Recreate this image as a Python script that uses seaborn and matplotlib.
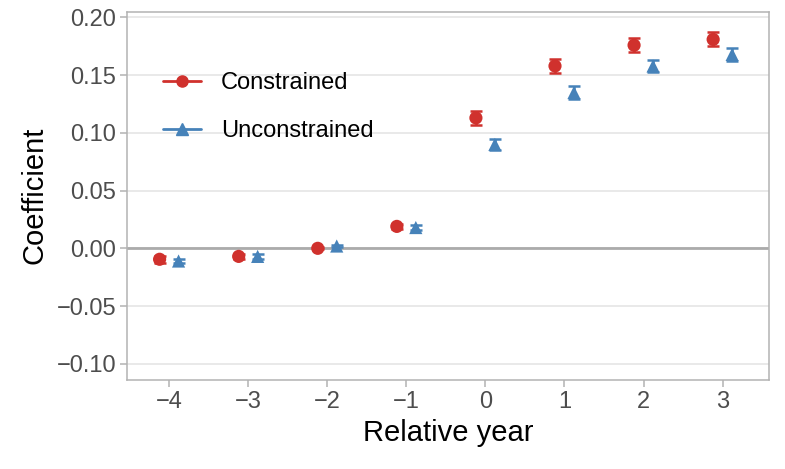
import matplotlib
matplotlib.use("Agg")
import matplotlib.pyplot as plt
from matplotlib.lines import Line2D
import numpy as np
import pandas as pd
import seaborn as sns

# Data
years = [-4, -3, -2, -1, 0, 1, 2, 3]
constrained = [-0.0095, -0.007, 0.000, 0.019, 0.113, 0.158, 0.176, 0.181]
constrained_se = [0.003, 0.002, 0.001, 0.002, 0.006, 0.006, 0.006, 0.006]
unconstrained = [-0.011, -0.007, 0.002, 0.018, 0.090, 0.135, 0.158, 0.168]
unconstrained_se = [0.002, 0.002, 0.001, 0.002, 0.005, 0.0055, 0.0055, 0.006]

RED = "#D0312D"
BLUE = "#4682B9"
dodge = 0.12

df = pd.concat([
    pd.DataFrame({"year": years, "coef": constrained, "se": constrained_se, "model": "Constrained"}),
    pd.DataFrame({"year": years, "coef": unconstrained, "se": unconstrained_se, "model": "Unconstrained"}),
], ignore_index=True)
df["xpos"] = df["year"] + np.where(df["model"] == "Constrained", -dodge, dodge)

sns.set_theme(style="white")
plt.rcParams["font.family"] = ["Liberation Sans", "DejaVu Sans"]

fig, ax = plt.subplots(figsize=(7.85, 4.69), dpi=100)

ax.axhline(0, color="#ABABAB", lw=2, zorder=1)
colors = {"Constrained": RED, "Unconstrained": BLUE}
markers = {"Constrained": "o", "Unconstrained": "^"}
for name, sub in df.groupby("model"):
    ax.errorbar(sub["xpos"], sub["coef"], yerr=sub["se"], fmt="none",
                ecolor=colors[name], elinewidth=1.8, capsize=4, capthick=1.8, zorder=2)
sns.scatterplot(data=df, x="xpos", y="coef", hue="model", style="model",
                palette=colors, markers=markers, s=90, edgecolor="none",
                legend=False, ax=ax, zorder=3)

ax.set_xlim(-4.53, 3.59)
ax.set_ylim(-0.114, 0.205)
ax.set_xticks(years)
ax.set_xticklabels([f"\u2212{abs(y)}" if y < 0 else str(y) for y in years])
yt = [-0.10, -0.05, 0.0, 0.05, 0.10, 0.15, 0.20]
ax.set_yticks(yt)
ax.set_yticklabels([f"\u2212{abs(v):.2f}" if v < 0 else f"{v:.2f}" for v in yt])
ax.grid(axis="y", color="#E3E3E3", lw=1.1, zorder=0)
ax.set_axisbelow(True)
for s in ax.spines.values():
    s.set_color("#B3B3B3")
    s.set_linewidth(1.1)
ax.tick_params(axis="both", colors="#B3B3B3", labelcolor="#4D4D4D",
               labelsize=17, length=5, width=1.1, direction="out", pad=3,
               bottom=True, left=True)
ax.set_xlabel("Relative year", fontsize=21, color="black", labelpad=4)
ax.set_ylabel("Coefficient", fontsize=21, color="black", labelpad=6)

handles = [
    Line2D([], [], color=RED, marker="o", lw=2, markersize=8),
    Line2D([], [], color=BLUE, marker="^", lw=2, markersize=9),
]
ax.legend(handles, ["Constrained", "Unconstrained"], loc="upper left",
          bbox_to_anchor=(0.023, 0.893), frameon=False, fontsize=17,
          labelcolor="black", handlelength=1.6, labelspacing=1.1,
          handletextpad=0.85)

fig.subplots_adjust(left=0.162, right=0.98, top=0.975, bottom=0.19)
fig.savefig("out.png", dpi=100)
